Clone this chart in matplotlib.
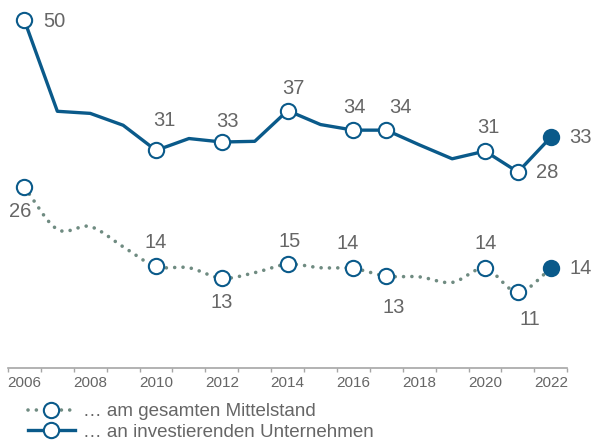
import numpy as np
import matplotlib
matplotlib.use("Agg")
import matplotlib.pyplot as plt
from matplotlib.lines import Line2D

plt.rcParams['font.family'] = ['Liberation Sans', 'DejaVu Sans']

years = list(range(2006, 2023))
invest = [50.0, 37.0, 36.7, 35.0, 31.4, 33.1, 32.6, 32.7, 37.1, 35.1, 34.3, 34.3, 32.2, 30.2, 31.3, 28.3, 33.3]
mittel = [26.1, 20.1, 20.5, 17.6, 14.8, 14.6, 13.1, 13.9, 15.1, 14.6, 14.5, 13.4, 13.3, 12.5, 14.5, 11.1, 14.5]
tick_labels = [str(y) if y % 2 == 0 else "" for y in years]

marked_years = [2006, 2010, 2012, 2014, 2016, 2017, 2020, 2021, 2022]
invest_labels = ["50", "31", "33", "37", "34", "34", "31", "28", "33"]
mittel_labels = ["26", "14", "13", "15", "14", "13", "14", "11", "14"]
# label offsets (pixels, x right / y up)
invest_off = [(30, 1), (8, 32), (6, 23), (6, 24), (1, 25), (14, 25), (3, 26), (29, 2), (30, 2)]
mittel_off = [(-4, -22), (0, 26), (0, -22), (2, 25), (-6, 27), (7, -29), (1, 27), (12, -25), (30, 2)]
legend_labels = ["… am gesamten Mittelstand", "… an investierenden Unternehmen"]

BLUE = "#0a5a8a"
GREEN = "#6f8b81"
TXT = "#666666"
AX = "#a6a6a6"

W, H = 592, 441
fig = plt.figure(figsize=(W / 100, H / 100), dpi=100)
ax = fig.add_axes([8 / W, 1 - 368 / H, (567.3 - 8) / W, (368 - 10) / H])

x = np.arange(len(years))

def smooth(xs, ys, n=20):
    xs = np.asarray(xs, float); ys = np.asarray(ys, float)
    px = np.concatenate([[2 * xs[0] - xs[1]], xs, [2 * xs[-1] - xs[-2]]])
    py = np.concatenate([[2 * ys[0] - ys[1]], ys, [2 * ys[-1] - ys[-2]]])
    ox, oy = [], []
    for i in range(1, len(px) - 2):
        t = np.linspace(0, 1, n, endpoint=False)
        for arr, out in ((px, ox), (py, oy)):
            p0, p1, p2, p3 = arr[i - 1], arr[i], arr[i + 1], arr[i + 2]
            out.extend(0.5 * ((2 * p1) + (-p0 + p2) * t + (2 * p0 - 5 * p1 + 4 * p2 - p3) * t ** 2
                              + (-p0 + 3 * p1 - 3 * p2 + p3) * t ** 3))
    ox.append(xs[-1]); oy.append(ys[-1])
    return np.array(ox), np.array(oy)

sx, sy = smooth(x, mittel)
ax.plot(sx, sy, color=GREEN, lw=2.6, linestyle=(0, (0.01, 2.3)), dash_capstyle='round', zorder=2)
ax.plot(x, invest, color=BLUE, lw=2.4, solid_joinstyle='round', zorder=2)

for series, labels, offs in ((invest, invest_labels, invest_off), (mittel, mittel_labels, mittel_off)):
    for k, yr in enumerate(marked_years):
        i = years.index(yr)
        last = (yr == years[-1])
        ax.plot(x[i], series[i], 'o', ms=11, mew=1.5, mec=BLUE,
                mfc=BLUE if last else 'white', zorder=3)
        ax.annotate(labels[k], (x[i], series[i]), xytext=offs[k], textcoords='offset pixels',
                    ha='center', va='center_baseline', fontsize=14.5, color=TXT)

ax.set_xlim(-0.5, len(years) - 0.5)
ax.set_ylim(0.25, 51.5)
ax.set_xticks(np.arange(len(years) + 1) - 0.5)
ax.set_xticklabels([])
ax.set_xticks(x, minor=True)
ax.set_xticklabels(tick_labels, minor=True, fontsize=11, color=TXT)
ax.tick_params(axis='x', which='major', length=3, color=AX, width=1)
ax.tick_params(axis='x', which='minor', length=0, pad=6)
ax.set_yticks([])
for s in ['left', 'right', 'top']:
    ax.spines[s].set_visible(False)
ax.spines['bottom'].set_color(AX)
ax.spines['bottom'].set_linewidth(1.2)
ax.patch.set_alpha(0)

handles = [
    Line2D([], [], color=GREEN, lw=2.6, linestyle=(0, (0.01, 2.3)), dash_capstyle='round',
           marker='o', ms=11, mfc='white', mec=BLUE, mew=1.5),
    Line2D([], [], color=BLUE, lw=2.4, marker='o', ms=11, mfc='white', mec=BLUE, mew=1.5),
]
leg = fig.legend(handles, legend_labels, loc='upper left', bbox_to_anchor=(28 / W, 1 - 403 / H),
                 frameon=False, fontsize=13.5, handlelength=2.5, handletextpad=0.45,
                 labelspacing=0.18, borderpad=0, borderaxespad=0, numpoints=1)
for t in leg.get_texts():
    t.set_color(TXT)

fig.savefig("out.png", dpi=100)
